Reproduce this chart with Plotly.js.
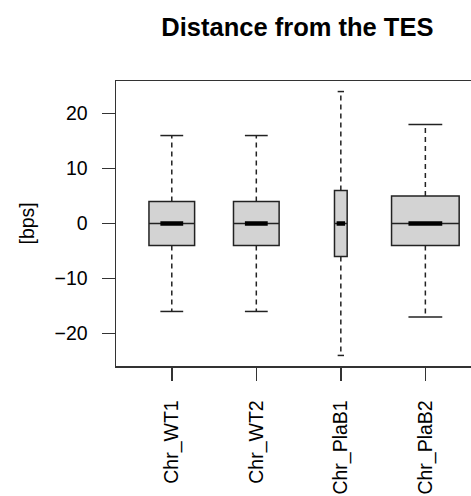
<!DOCTYPE html>
<html><head><meta charset="utf-8">
<script src="https://cdn.plot.ly/plotly-3.0.1.min.js"></script>
<style>html,body{margin:0;padding:0;overflow:hidden;background:#fff}</style>
</head><body><div id="chart" style="width:471px;height:496px"></div>
<script>
const categories = ["Chr_WT1", "Chr_WT2", "Chr_PlaB1", "Chr_PlaB2"];
const lowerWhisker = [-16, -16, -24, -17];
const q1 = [-4, -4, -6, -4];
const median = [0, 0, 0, 0];
const q3 = [4, 4, 6, 5];
const upperWhisker = [16, 16, 24, 18];
const yTicks = [-20, -10, 0, 10, 20];

// styling (box widths proportional to sqrt(n), varwidth-like)
const BOX_W = [0.54, 0.54, 0.15, 0.80];
const pos = categories.map((c, i) => i + 1);
const LINE = '#222';

const traces = [];
categories.forEach((c, i) => {
  traces.push({
    type: 'box', x: [pos[i]], q1: [q1[i]], median: [median[i]], q3: [q3[i]],
    lowerfence: [q1[i]], upperfence: [q3[i]], width: BOX_W[i], whiskerwidth: 0,
    fillcolor: '#d3d3d3', line: {color: LINE, width: 1.5}, boxpoints: false,
    hoverinfo: 'skip', showlegend: false
  });
});
// dashed whiskers
const wx = [], wy = [];
categories.forEach((c, i) => {
  wx.push(pos[i], pos[i], null, pos[i], pos[i], null);
  wy.push(q3[i], upperWhisker[i], null, q1[i], lowerWhisker[i], null);
});
traces.push({type: 'scatter', mode: 'lines', x: wx, y: wy, line: {color: LINE, width: 1.5, dash: '5px,4px'}, hoverinfo: 'skip', showlegend: false});
// whisker caps
const cx = [], cy = [];
categories.forEach((c, i) => {
  const h = BOX_W[i] / 4;
  cx.push(pos[i] - h, pos[i] + h, null, pos[i] - h, pos[i] + h, null);
  cy.push(upperWhisker[i], upperWhisker[i], null, lowerWhisker[i], lowerWhisker[i], null);
});
traces.push({type: 'scatter', mode: 'lines', x: cx, y: cy, line: {color: LINE, width: 1.5}, hoverinfo: 'skip', showlegend: false});
// thick median segments
const mx = [], my = [];
categories.forEach((c, i) => {
  const h = Math.max(BOX_W[i] / 4, 0.05);
  mx.push(pos[i] - h, pos[i] + h, null);
  my.push(median[i], median[i], null);
});
traces.push({type: 'scatter', mode: 'lines', x: mx, y: my, line: {color: '#000', width: 4.5}, hoverinfo: 'skip', showlegend: false});

const font = {family: 'Liberation Sans, Arial, sans-serif', color: '#000'};
const layout = {
  width: 471, height: 496,
  margin: {l: 116, r: 0, t: 81, b: 130, pad: 0},
  paper_bgcolor: '#fff', plot_bgcolor: '#fff',
  boxmode: 'overlay',
  font: Object.assign({size: 19}, font),
  title: {text: '<b>Distance from the TES</b>', font: Object.assign({size: 25.5}, font),
    xref: 'paper', x: 0.511, xanchor: 'center', yref: 'container', y: 1 - 27/496, yanchor: 'middle'},
  xaxis: {
    range: [0.34, 4.54], tickvals: pos, ticktext: categories, tickangle: -90,
    showgrid: false, zeroline: false, showline: true, mirror: true, linecolor: '#333', linewidth: 1.5,
    ticks: 'outside', ticklen: 13, tickwidth: 1.5, tickcolor: '#333', ticklabelstandoff: 12,
    tickfont: Object.assign({size: 19.5}, font)
  },
  yaxis: {
    range: [-25.92, 25.92], tickvals: yTicks, ticktext: yTicks.map(v => v < 0 ? '\u2212' + Math.abs(v) : String(v)),
    showgrid: false, zeroline: false, showline: true, linecolor: '#333', linewidth: 1.5,
    ticks: 'outside', ticklen: 13, tickwidth: 1.5, tickcolor: '#333', ticklabelstandoff: 10,
    tickfont: Object.assign({size: 19.5}, font)
  },
  annotations: [{
    text: '[bps]', xref: 'paper', yref: 'paper', x: (26 - 116) / 355, y: 0.5,
    xanchor: 'center', yanchor: 'middle', textangle: -90, showarrow: false,
    font: Object.assign({size: 19.5}, font)
  }]
};
Plotly.newPlot('chart', traces, layout, {displayModeBar: false, staticPlot: true});
</script></body></html>
